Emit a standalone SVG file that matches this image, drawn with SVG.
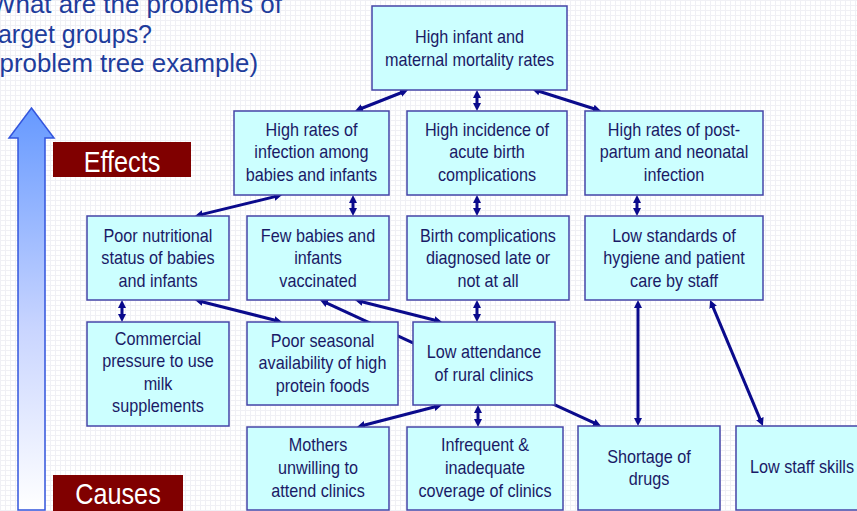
<svg xmlns="http://www.w3.org/2000/svg" width="857" height="511" viewBox="0 0 857 511">
  <style>
    .box { fill: #ccffff; stroke: #4646a8; stroke-width: 1.5; }
    .bt { font-family: "Liberation Sans", Arial, sans-serif; font-size: 18px; fill: #1a1a66; text-anchor: middle;
          transform: scaleX(0.9); transform-box: fill-box; transform-origin: center; }
    .tag { fill: #800000; }
    .tagt { font-family: "Liberation Sans", Arial, sans-serif; font-size: 29px; fill: #ffffff; text-anchor: middle;
            transform: scaleX(0.87); transform-box: fill-box; transform-origin: center; }
    .title { font-family: "Liberation Sans", Arial, sans-serif; font-size: 25px; fill: #1e3c9c; }
    .con line { stroke: #0a0a8c; stroke-width: 3; fill: none; }
  </style>
  <defs>
    <pattern id="grid" width="5" height="5" patternUnits="userSpaceOnUse">
      <rect width="5" height="5" fill="#ffffff"/>
      <path d="M0,0.5 H5 M0.5,0 V5" stroke="#f0f0f5" stroke-width="1"/>
    </pattern>
    <linearGradient id="up" x1="0" y1="0" x2="0" y2="1">
      <stop offset="0" stop-color="#6699ff"/>
      <stop offset="0.55" stop-color="#c9d5ff"/>
      <stop offset="1" stop-color="#ffffff"/>
    </linearGradient>
    <marker id="ah" viewBox="0 0 8 8" refX="4" refY="4" markerWidth="8" markerHeight="8"
            markerUnits="userSpaceOnUse" orient="auto-start-reverse">
      <path d="M0,0 L8,4 L0,8 z" fill="#0a0a8c"/>
    </marker>
  </defs>

  <rect width="857" height="511" fill="url(#grid)"/>

  <!-- heading -->
  <g id="heading">
    <text class="title" x="-9" y="13" textLength="291" lengthAdjust="spacingAndGlyphs">What are the problems of</text>
    <text class="title" x="-9" y="43" textLength="161" lengthAdjust="spacingAndGlyphs">target groups?</text>
    <text class="title" x="-9" y="72" textLength="267" lengthAdjust="spacingAndGlyphs">(problem tree example)</text>
  </g>

  <!-- cause-to-effect scale -->
  <g id="scale-arrow">
    <polygon points="18,510 18,138 9,138 31.5,108 54,138 45,138 45,510" fill="url(#up)" stroke="#3355dd" stroke-width="1.5"/>
  </g>
  <g id="effects-tag">
    <rect class="tag" x="53" y="142" width="138" height="35"/>
    <text class="tagt" x="122" y="172">Effects</text>
  </g>
  <g id="causes-tag">
    <rect class="tag" x="53" y="475" width="130" height="40"/>
    <text class="tagt" x="118" y="504">Causes</text>
  </g>

  <!-- connectors -->
  <g id="connectors" class="con">
    <line x1="404.3" y1="91.5" x2="358.7" y2="109.5" marker-start="url(#ah)" marker-end="url(#ah)"/>
    <line x1="477" y1="94" x2="477" y2="107" marker-start="url(#ah)" marker-end="url(#ah)"/>
    <line x1="535.8" y1="90.2" x2="597.2" y2="109.8" marker-start="url(#ah)" marker-end="url(#ah)"/>
    <line x1="278.1" y1="195.9" x2="198.9" y2="215.1" marker-start="url(#ah)" marker-end="url(#ah)"/>
    <line x1="353" y1="199" x2="353" y2="212" marker-start="url(#ah)" marker-end="url(#ah)"/>
    <line x1="477" y1="199" x2="477" y2="212" marker-start="url(#ah)" marker-end="url(#ah)"/>
    <line x1="637" y1="199" x2="637" y2="212" marker-start="url(#ah)" marker-end="url(#ah)"/>
    <line x1="122" y1="304" x2="122" y2="318" marker-start="url(#ah)" marker-end="url(#ah)"/>
    <line x1="198.9" y1="301" x2="278.1" y2="321" marker-start="url(#ah)" marker-end="url(#ah)"/>
    <line x1="420" y1="346.2" x2="323.6" y2="301.7" marker-end="url(#ah)"/>
    <line x1="358.9" y1="301" x2="438.1" y2="321" marker-start="url(#ah)" marker-end="url(#ah)"/>
    <line x1="477" y1="304" x2="477" y2="318" marker-start="url(#ah)" marker-end="url(#ah)"/>
    <line x1="438.1" y1="406" x2="360.9" y2="426" marker-start="url(#ah)" marker-end="url(#ah)"/>
    <line x1="478" y1="409" x2="478" y2="423" marker-start="url(#ah)" marker-end="url(#ah)"/>
    <line x1="550" y1="402.6" x2="597.4" y2="424.3" marker-end="url(#ah)"/>
    <line x1="638" y1="304" x2="638" y2="422" marker-start="url(#ah)" marker-end="url(#ah)"/>
    <line x1="711.6" y1="303.7" x2="761.4" y2="422.3" marker-start="url(#ah)" marker-end="url(#ah)"/>
  </g>

  <!-- effects -->
  <g id="mortality">
    <rect class="box" x="372" y="6" width="195" height="84"/>
    <text class="bt" x="469.5" y="43">High infant and</text>
    <text class="bt" x="469.5" y="66">maternal mortality rates</text>
  </g>
  <g id="infection-babies">
    <rect class="box" x="234" y="111" width="155" height="84"/>
    <text class="bt" x="311.5" y="136">High rates of</text>
    <text class="bt" x="311.5" y="158.5">infection among</text>
    <text class="bt" x="311.5" y="181">babies and infants</text>
  </g>
  <g id="birth-complications">
    <rect class="box" x="407" y="111" width="160" height="84"/>
    <text class="bt" x="487" y="136">High incidence of</text>
    <text class="bt" x="487" y="158.5">acute birth</text>
    <text class="bt" x="487" y="181">complications</text>
  </g>
  <g id="postpartum-infection">
    <rect class="box" x="585" y="111" width="178" height="84"/>
    <text class="bt" x="674" y="136">High rates of post-</text>
    <text class="bt" x="674" y="158.5">partum and neonatal</text>
    <text class="bt" x="674" y="181">infection</text>
  </g>

  <!-- intermediate causes -->
  <g id="poor-nutrition">
    <rect class="box" x="87" y="216" width="142" height="84"/>
    <text class="bt" x="158" y="242">Poor nutritional</text>
    <text class="bt" x="158" y="264.5">status of babies</text>
    <text class="bt" x="158" y="287">and infants</text>
  </g>
  <g id="few-vaccinated">
    <rect class="box" x="247" y="216" width="142" height="84"/>
    <text class="bt" x="318" y="242">Few babies and</text>
    <text class="bt" x="318" y="264.5">infants</text>
    <text class="bt" x="318" y="287">vaccinated</text>
  </g>
  <g id="late-diagnosis">
    <rect class="box" x="407" y="216" width="162" height="84"/>
    <text class="bt" x="488" y="242">Birth complications</text>
    <text class="bt" x="488" y="264.5">diagnosed late or</text>
    <text class="bt" x="488" y="287">not at all</text>
  </g>
  <g id="low-hygiene">
    <rect class="box" x="585" y="216" width="178" height="84"/>
    <text class="bt" x="674" y="242">Low standards of</text>
    <text class="bt" x="674" y="264.5">hygiene and patient</text>
    <text class="bt" x="674" y="287">care by staff</text>
  </g>

  <g id="commercial-pressure">
    <rect class="box" x="87" y="322" width="142" height="104"/>
    <text class="bt" x="158" y="345">Commercial</text>
    <text class="bt" x="158" y="367.5">pressure to use</text>
    <text class="bt" x="158" y="390">milk</text>
    <text class="bt" x="158" y="412.5">supplements</text>
  </g>
  <g id="seasonal-protein">
    <rect class="box" x="247" y="322" width="151" height="83"/>
    <text class="bt" x="322.5" y="347">Poor seasonal</text>
    <text class="bt" x="322.5" y="369.5">availability of high</text>
    <text class="bt" x="322.5" y="392">protein foods</text>
  </g>
  <g id="low-attendance">
    <rect class="box" x="413" y="322" width="142" height="83"/>
    <text class="bt" x="484" y="358">Low attendance</text>
    <text class="bt" x="484" y="381">of rural clinics</text>
  </g>

  <!-- root causes -->
  <g id="mothers-unwilling">
    <rect class="box" x="247" y="427" width="142" height="83"/>
    <text class="bt" x="318" y="451">Mothers</text>
    <text class="bt" x="318" y="474">unwilling to</text>
    <text class="bt" x="318" y="497">attend clinics</text>
  </g>
  <g id="clinic-coverage">
    <rect class="box" x="407" y="427" width="156" height="83"/>
    <text class="bt" x="485" y="451">Infrequent &amp;</text>
    <text class="bt" x="485" y="474">inadequate</text>
    <text class="bt" x="485" y="497">coverage of clinics</text>
  </g>
  <g id="drug-shortage">
    <rect class="box" x="578" y="426" width="142" height="84"/>
    <text class="bt" x="649" y="463">Shortage of</text>
    <text class="bt" x="649" y="485">drugs</text>
  </g>
  <g id="staff-skills">
    <rect class="box" x="736" y="426" width="135" height="84"/>
    <text class="bt" x="802" y="473">Low staff skills</text>
  </g>
</svg>
